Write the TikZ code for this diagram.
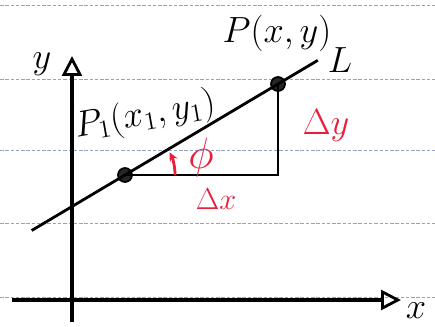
\documentclass[tikz,border=0pt]{standalone}
\usepackage{amsmath,amssymb}
\usepackage{tikz}
\usetikzlibrary{positioning, calc, arrows.meta}
\definecolor{markerRed}{RGB}{232, 30, 58}
\definecolor{paperLine}{RGB}{150, 162, 195}
\begin{document}
\begin{tikzpicture}[
    x=0.02cm, y=-0.02cm,
    axis/.style={line width=1.8pt, -{Triangle[open, length=0.4cm, width=0.4cm, line width=1.6pt]}},
    lineL/.style={line width=1.6pt},
    leg/.style={line width=1.6pt},
    pt/.style={circle, fill=black!85, draw=black, line width=1pt, inner sep=0pt, minimum size=0.28cm},
    lbl/.style={font=\fontsize{20}{24}\selectfont, inner sep=0pt},
    redlbl/.style={font=\fontsize{21}{25}\selectfont, inner sep=0pt, text=markerRed},
    angArr/.style={-{Stealth[length=0.18cm, width=0.17cm]}, line width=1.6pt, markerRed},
    ruled/.style={paperLine, line width=0.5pt, dash pattern=on 2pt off 1pt},
  ]
    \useasboundingbox (0,0) rectangle (435,327);

    % Notebook ruling
    \foreach \ry in {5,79,150,223,297} {
      \draw[ruled] (0,\ry) -- (435,\ry);
    }

    % Axes
    \coordinate (xstart) at (12,300);
    \coordinate (xend) at (401,300);
    \coordinate (ybot) at (72,322);
    \coordinate (ytop) at (72,56);
    \draw[axis] (xstart) -- (xend);
    \draw[axis] (ybot) -- (ytop);
    \node[lbl, font=\fontsize{22}{26}\selectfont] (xlab) at (416,311) {$x$};
    \node[lbl, font=\fontsize{22}{26}\selectfont] (ylab) at (42,64) {$y$};

    % Points on L
    \node[pt] (P1) at (125,175) {};
    \node[pt] (P) at (278,84) {};

    % Line L
    \draw[lineL] ($(P1)!-0.61!(P)$) -- ($(P1)!1.26!(P)$) coordinate (Lend);
    \node[lbl] (Llab) at (340,60) {$L$};

    % Triangle legs
    \coordinate (C) at (P1 -| P);
    \draw[leg] (P1.center) -- (C) -- (P.center);

    % Labels
    \node[lbl] (Plab) at (277,33) {$P(x,y)$};
    \node[lbl, rotate=10] (P1lab) at (145,116) {$P_1(x_1,y_1)$};
    \node[redlbl] (dy) at (326,126) {$\Delta y$};
    \node[redlbl, font=\fontsize{19}{22}\selectfont] (dx) at (216,199) {$\Delta x$};
    \node[redlbl, font=\fontsize{23}{26}\selectfont] (phi) at (201,158) {$\phi$};

    % Angle arrow
    \draw[angArr] ($(P1)+(50,0)$) arc[start angle=0, end angle=-27, radius=50];
\end{tikzpicture}
\end{document}
